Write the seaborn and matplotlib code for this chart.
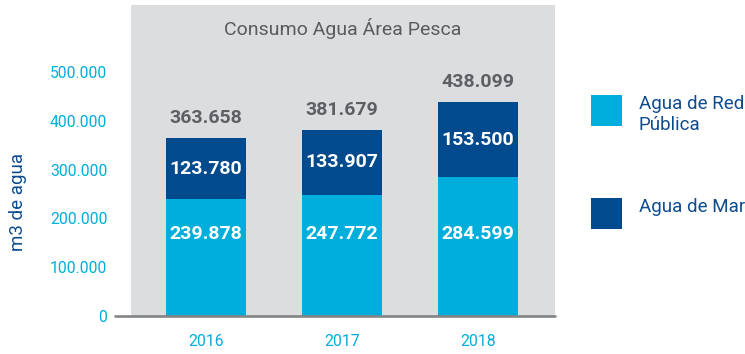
import matplotlib
matplotlib.use("Agg")
import matplotlib.pyplot as plt
from matplotlib.patches import Rectangle
import pandas as pd
import seaborn as sns

# Water consumption (m3) per year
years = ["2016", "2017", "2018"]
red_publica = [239878, 247772, 284599]
agua_mar = [123780, 133907, 153500]
totals = [363658, 381679, 438099]
y_ticks = [0, 100000, 200000, 300000, 400000, 500000]

CYAN = "#00AEDB"
NAVY = "#004A8D"
PANEL = "#DCDDDF"
GRAY_TXT = "#5D5F64"
TITLE_TXT = "#5A5B5E"
AXIS_LINE = "#838487"
LABEL_BLUE = "#0E4C8E"

sns.set_theme(style="white")
plt.rcParams["font.family"] = ["Roboto", "DejaVu Sans"]

df = pd.DataFrame({"year": years, "red": red_publica, "mar": agua_mar, "total": totals})

fig = plt.figure(figsize=(7.45, 3.54), dpi=100)
ax = fig.add_axes([131 / 745, 1 - 316 / 354, 424 / 745, 311 / 354])
ax.set_facecolor(PANEL)

# Stacked bars: full total in navy, public-network share in cyan on top of it
sns.barplot(data=df, x="year", y="total", color=NAVY, saturation=1, width=0.59,
            linewidth=0, ax=ax)
sns.barplot(data=df, x="year", y="red", color=CYAN, saturation=1, width=0.59,
            linewidth=0, ax=ax)

ax.set_xlim(-0.55, 2.565)
ax.set_ylim(0, 637000)
for s in ax.spines.values():
    s.set_visible(False)


def fmt(v):
    return f"{v:,}".replace(",", ".")


ax.set_yticks(y_ticks)
ax.set_yticklabels([fmt(v) for v in y_ticks])
ax.tick_params(axis="y", length=0, pad=17, labelsize=11.3, labelcolor=CYAN)
ax.tick_params(axis="x", length=0, pad=13, labelsize=11.3, labelcolor=CYAN)
ax.set_xlabel("")
ax.set_ylabel("")

ax.axhline(0, xmin=-16 / 424, xmax=1.0, clip_on=False, color=AXIS_LINE, lw=1.9, zorder=5)

for i, (r, m, t) in enumerate(zip(red_publica, agua_mar, totals)):
    ax.text(i, 168000, fmt(r), ha="center", va="center",
            color="white", fontsize=14, fontweight="bold")
    ax.text(i, r + m / 2, fmt(m), ha="center", va="center",
            color="white", fontsize=14, fontweight="bold")
    ax.annotate(fmt(t), (i, t), xytext=(0, 14.5),
                textcoords="offset points", ha="center", va="center",
                color=GRAY_TXT, fontsize=14, fontweight="bold")

ax.text(0.5, 0.923, "Consumo Agua Área Pesca", transform=ax.transAxes,
        ha="center", va="center", color=TITLE_TXT, fontsize=14)

fig.text(18 / 745, 1 - 202 / 354, "m3 de agua", rotation=90, ha="center",
         va="center", color=LABEL_BLUE, fontsize=13.5)

# Legend
W, H = 745, 354
for (y0, col, txt, ty) in [(95, CYAN, "Agua de Red\nPública", 95),
                           (198, NAVY, "Agua de Mar", 198)]:
    fig.patches.append(Rectangle((591 / W, 1 - (y0 + 31) / H), 31 / W, 31 / H,
                                 transform=fig.transFigure, color=col, lw=0))
    fig.text(639 / W, 1 - ty / H, txt, ha="left", va="top", color=LABEL_BLUE,
             fontsize=13.5, linespacing=1.25)

fig.savefig("out.png", dpi=100)
